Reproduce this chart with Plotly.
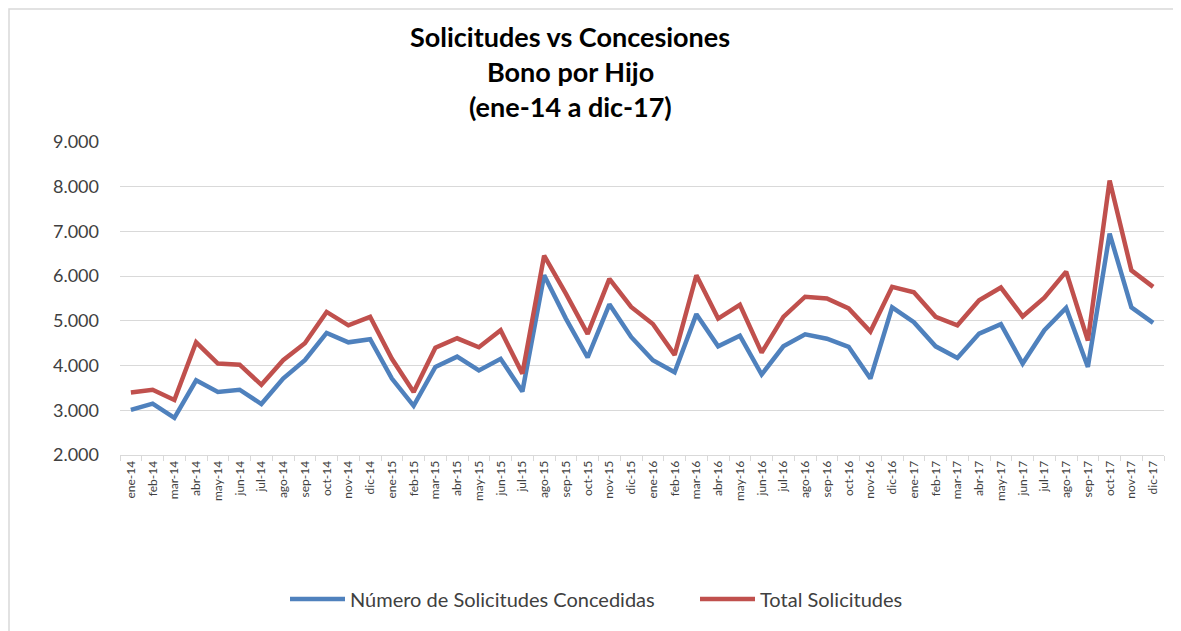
import plotly.graph_objects as go

months = ["ene-14","feb-14","mar-14","abr-14","may-14","jun-14","jul-14","ago-14","sep-14","oct-14","nov-14","dic-14",
          "ene-15","feb-15","mar-15","abr-15","may-15","jun-15","jul-15","ago-15","sep-15","oct-15","nov-15","dic-15",
          "ene-16","feb-16","mar-16","abr-16","may-16","jun-16","jul-16","ago-16","sep-16","oct-16","nov-16","dic-16",
          "ene-17","feb-17","mar-17","abr-17","may-17","jun-17","jul-17","ago-17","sep-17","oct-17","nov-17","dic-17"]

concedidas = [3010, 3150, 2830, 3670, 3410, 3460, 3140, 3710, 4120, 4730, 4520, 4590,
              3710, 3100, 3970, 4200, 3890, 4150, 3420, 6020, 5050, 4180, 5370, 4640,
              4120, 3850, 5150, 4430, 4670, 3800, 4430, 4700, 4600, 4420, 3710, 5300,
              4970, 4430, 4170, 4715, 4925, 4045, 4790, 5290, 3970, 6950, 5300, 4955]

total = [3400, 3460, 3230, 4520, 4045, 4020, 3570, 4120, 4500, 5200, 4900, 5090,
         4150, 3410, 4400, 4610, 4410, 4790, 3820, 6460, 5610, 4710, 5940, 5310,
         4930, 4240, 6020, 5050, 5360, 4290, 5090, 5540, 5500, 5280, 4760, 5760,
         5640, 5090, 4900, 5460, 5745, 5100, 5520, 6100, 4560, 8140, 6130, 5760]

y_ticks = [2000, 3000, 4000, 5000, 6000, 7000, 8000, 9000]

title_lines = ["Solicitudes vs Concesiones", "Bono por Hijo", "(ene-14 a dic-17)"]

BLUE = "#4F81BD"
RED = "#C0504D"
FONT = "Lato"

fig = go.Figure()
fig.add_trace(go.Scatter(x=months, y=concedidas, mode="lines", name="Número de Solicitudes Concedidas",
                         line=dict(color=BLUE, width=4.5)))
fig.add_trace(go.Scatter(x=months, y=total, mode="lines", name="Total Solicitudes",
                         line=dict(color=RED, width=4.5)))

OFF = 8  # page body margin
W, H = 1181 - OFF, 631 - OFF
L, R, T, B = 120 - OFF, 17, 142 - OFF, 176
pw, ph = W - L - R, H - T - B

def px_x(x):  # page pixel -> paper x
    return (x - OFF - L) / pw

def px_y(y):  # page pixel -> paper y
    return (H - B - (y - OFF)) / ph

fig.update_layout(
    width=W, height=H,
    margin=dict(l=L, r=R, t=T, b=B, autoexpand=False),
    paper_bgcolor="white", plot_bgcolor="white",
    separators=",.",
    font=dict(family=FONT, color="#404040"),
    showlegend=True,
    legend=dict(orientation="h", x=px_x(695), xanchor="center", y=px_y(599), yanchor="middle",
                font=dict(size=20, color="#404040", family=FONT), itemwidth=55,
                entrywidthmode="pixels", entrywidth=340,
                traceorder="normal"),
    xaxis=dict(type="category", range=[-0.5, len(months) - 0.5], tickangle=-90,
               tickfont=dict(size=12, color="#404040", family=FONT),
               ticks="outside", tickson="boundaries", ticklen=5, tickcolor="#D9D9D9",
               showline=True, linecolor="#D9D9D9", linewidth=1, showgrid=False),
    yaxis=dict(range=[2000, 9000], tickvals=y_ticks, tickformat=",d",
               tickfont=dict(size=18, color="#404040", family=FONT),
               showgrid=True, gridcolor="#D9D9D9", gridwidth=1, zeroline=False,
               showline=False, ticks="", ticklabelstandoff=20),
)

# chart border
fig.add_shape(type="rect", xref="paper", yref="paper",
              x0=px_x(9), x1=px_x(1178), y0=px_y(640), y1=px_y(9),
              line=dict(color="#D9D9D9", width=1.5), fillcolor="rgba(0,0,0,0)", layer="below")

for i, t in enumerate(title_lines):
    fig.add_annotation(text="<b>" + t + "</b>", xref="paper", yref="paper",
                       x=px_x(570), y=px_y(37 + 34.5 * i), showarrow=False,
                       xanchor="center", yanchor="middle",
                       font=dict(size=27, color="#000000", family=FONT))

fig.write_html("out.html")
